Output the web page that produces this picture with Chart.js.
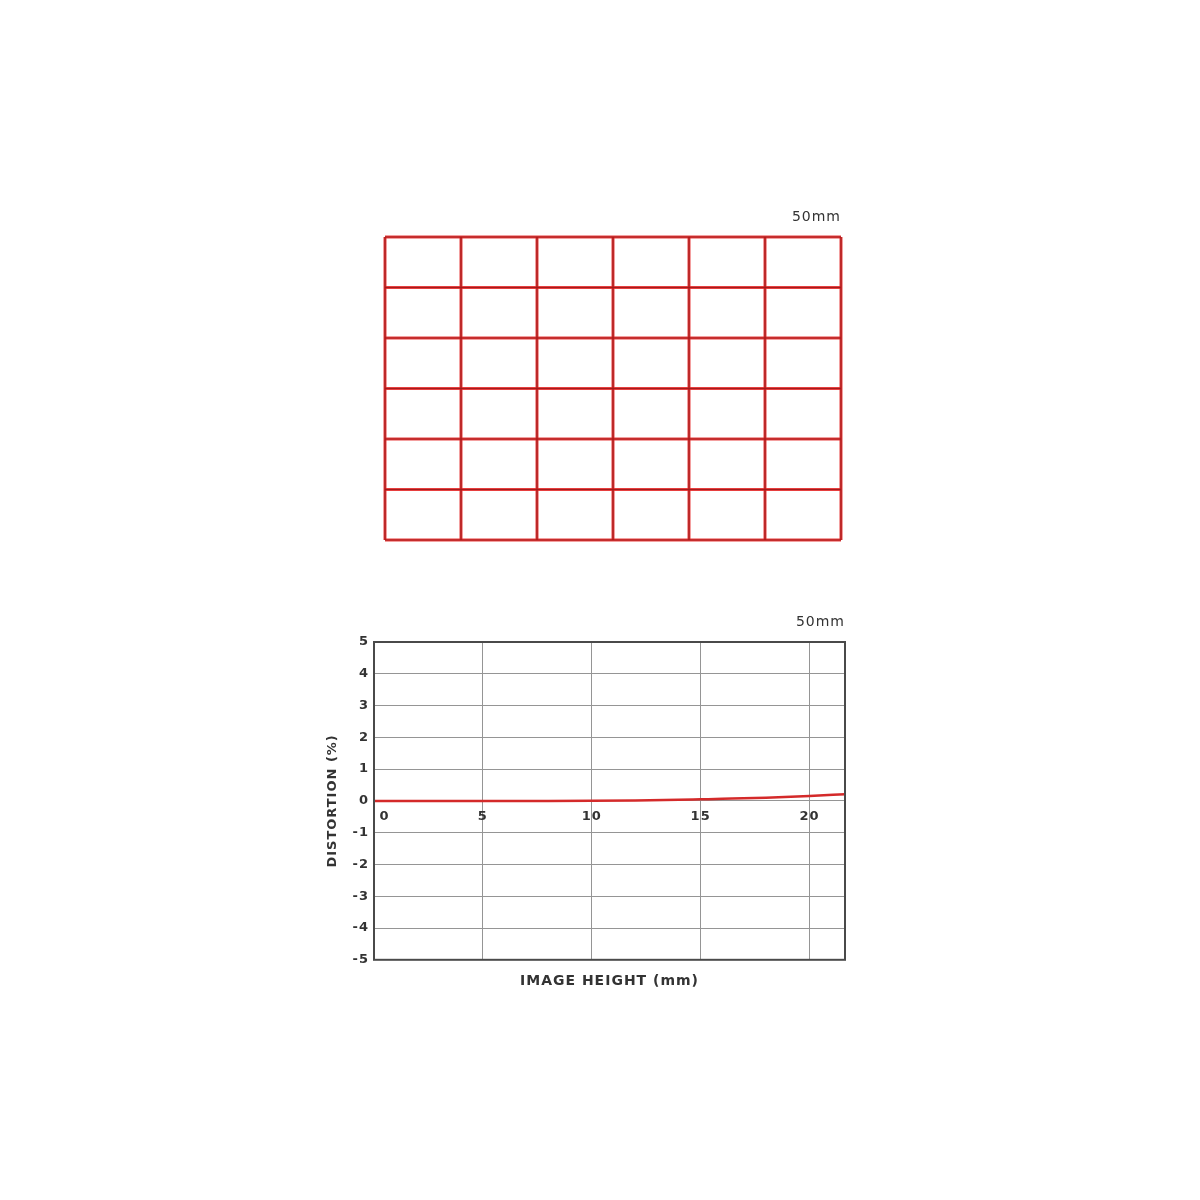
<!DOCTYPE html>
<html>
<head>
<meta charset="utf-8">
<script src="https://cdn.jsdelivr.net/npm/chart.js@4.4.1/dist/chart.umd.min.js"></script>
<style>
  html, body { margin: 0; padding: 0; background: #fff; }
  body { width: 1200px; height: 1200px; position: relative; }
  .box { position: absolute; }
  #gridBox { left: 375px; top: 195px; width: 476px; height: 355px; }
  #distBox { left: 300px; top: 600px; width: 555px; height: 400px; }
</style>
</head>
<body>
<div class="box" id="gridBox"><canvas id="gridChart"></canvas></div>
<div class="box" id="distBox"><canvas id="distChart"></canvas></div>
<script>
// focal length label
const focalLabel = "50mm";

// distortion grid (cells across / down)
const gridCols = [0, 1, 2, 3, 4, 5, 6];
const gridRows = [0, 1, 2, 3, 4, 5, 6];

// distortion curve
const imageHeight = [0, 2, 4, 6, 8, 10, 12, 14, 15, 16, 18, 20, 21.63];
const distortion  = [0, 0, 0, 0, 0, 0.005, 0.015, 0.035, 0.05, 0.065, 0.1, 0.155, 0.21];

const xTicks = [0, 5, 10, 15, 20];
const xMax = 21.63;
const yMin = -5, yMax = 5;

const FONT = "'DejaVu Sans', 'Liberation Sans', sans-serif";
const RED = "#d42a2a";

Chart.defaults.font.family = FONT;
Chart.defaults.color = "#333";
Chart.defaults.animation = false;

// the printed charts use a wide, letter-spaced face
const spacing = {
  id: "spacing",
  beforeDraw(chart) { chart.ctx.letterSpacing = "1px"; }
};

// ---- grid picture ----
const gridSets = [];
const addLine = pts => {
  gridSets.push({ data: pts, borderColor: "rgba(228,42,42,0.9)", borderWidth: 3, order: 2 });
  gridSets.push({ data: pts, borderColor: "#a31c1c", borderWidth: 1.2, order: 1 });
};
gridCols.forEach(c => addLine([{ x: c, y: gridRows[0] }, { x: c, y: gridRows[gridRows.length - 1] }]));
gridRows.forEach(r => addLine([{ x: gridCols[0], y: r }, { x: gridCols[gridCols.length - 1], y: r }]));

new Chart(document.getElementById("gridChart"), {
  type: "line",
  data: { datasets: gridSets.map(d => Object.assign(d, { pointRadius: 0, fill: false, clip: 4 })) },
  options: {
    responsive: true,
    maintainAspectRatio: false,
    layout: { padding: { left: 10, right: 10, top: 0, bottom: 10 } },
    scales: {
      x: { type: "linear", min: gridCols[0], max: gridCols[gridCols.length - 1], display: false },
      y: { type: "linear", min: gridRows[0], max: gridRows[gridRows.length - 1], display: false }
    },
    plugins: {
      legend: { display: false },
      tooltip: { enabled: false },
      title: {
        display: true, text: focalLabel, align: "end", color: "#333",
        font: { size: 14, weight: "normal" },
        padding: { top: 14, bottom: 11.2 }
      }
    }
  },
  plugins: [spacing]
});

// ---- distortion graph ----
const frame = {
  id: "frame",
  afterDatasetsDraw(chart) {
    const { ctx, chartArea: a } = chart;
    ctx.save();
    ctx.strokeStyle = "#4a4a4a";
    ctx.lineWidth = 2;
    ctx.strokeRect(a.left, a.top, a.right - a.left, a.bottom - a.top);
    ctx.restore();
  }
};

new Chart(document.getElementById("distChart"), {
  type: "line",
  data: {
    datasets: [{
      data: imageHeight.map((h, i) => ({ x: h, y: distortion[i] })),
      borderColor: RED,
      borderWidth: 2.5,
      pointRadius: 0,
      fill: false,
      cubicInterpolationMode: "monotone"
    }]
  },
  options: {
    responsive: true,
    maintainAspectRatio: false,
    layout: { padding: { left: 0, right: 10, top: 0, bottom: 10.4 } },
    scales: {
      x: {
        type: "linear", min: 0, max: xMax,
        position: { y: 0 },
        afterBuildTicks: s => { s.ticks = xTicks.concat([xMax]).map(v => ({ value: v })); },
        ticks: {
          align: "inner", padding: 8,
          font: { size: 13, weight: "bold" }, color: "#333",
          callback: v => xTicks.includes(v) ? (v === 0 ? " 0" : String(v)) : ""
        },
        grid: { color: "#959595", lineWidth: 1, drawTicks: false },
        border: { display: false }
      },
      xTitle: {
        type: "linear", min: 0, max: xMax, position: "bottom",
        ticks: { display: false },
        grid: { display: false, drawTicks: false },
        border: { display: false },
        title: {
          display: true, text: "IMAGE HEIGHT (mm)", color: "#333",
          font: { size: 14, weight: "bold" },
          padding: { top: 13, bottom: 0 }
        }
      },
      y: {
        type: "linear", min: yMin, max: yMax,
        afterFit: s => { s.width = 74; },
        ticks: { stepSize: 1, padding: 5, font: { size: 13, weight: "bold" }, color: "#333" },
        grid: { color: "#959595", lineWidth: 1, drawTicks: false },
        border: { display: false },
        title: {
          display: true, text: "DISTORTION (%)", color: "#333",
          font: { size: 13, weight: "bold" },
          padding: { top: 25, bottom: 0 }
        }
      }
    },
    plugins: {
      legend: { display: false },
      tooltip: { enabled: false },
      title: {
        display: true, text: focalLabel, align: "end", color: "#333",
        font: { size: 14, weight: "normal" },
        padding: { top: 14, bottom: 11.2 }
      }
    }
  },
  plugins: [frame, spacing]
});
</script>
</body>
</html>
